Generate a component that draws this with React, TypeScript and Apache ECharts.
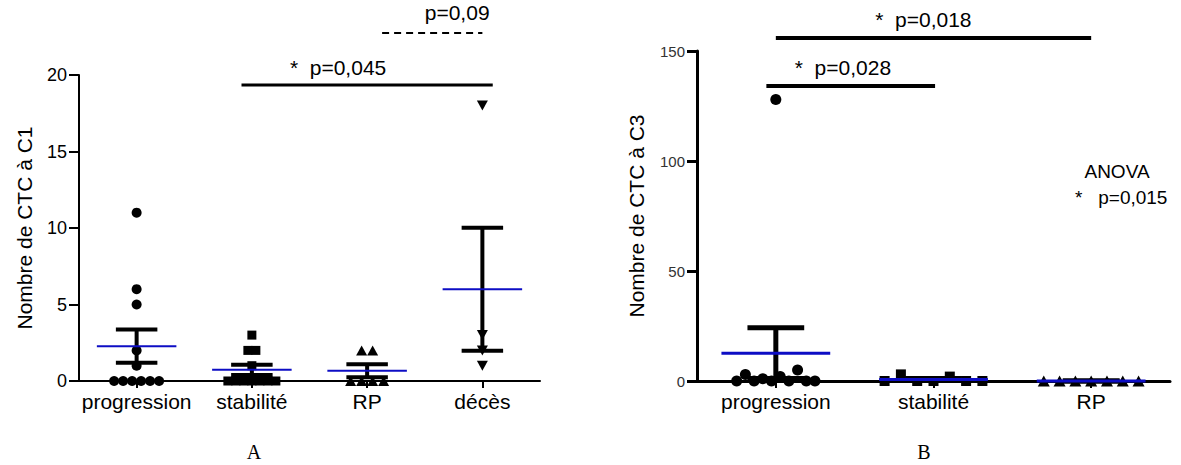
import React, { useEffect, useRef } from "react";
import * as echarts from "echarts";

// ---------- data ----------
const categoriesA = ["progression", "stabilité", "RP", "décès"];
const categoriesB = ["progression", "stabilité", "RP"];

const progressionC1 = [11, 6, 5, 2, 1, 0, 0, 0, 0, 0, 0];
const stabiliteC1 = [3, 2, 2, 1, 0, 0, 0, 0, 0, 0, 0];
const rpC1 = [2, 2, 0, 0, 0, 0];
const decesC1 = [18, 3, 2, 1];

const progressionC3 = [128, 0, 3, 0, 1, 0, 2, 0, 5, 0, 0];
const stabiliteC3 = [0, 3, 0, 0, 2, 0, 0];
const rpC3 = [0, 0, 0, 0, 0, 0, 0];

const yAxisA = { min: 0, max: 20, interval: 5 };
const yAxisB = { min: 0, max: 150, interval: 50 };

// significance brackets: x in category units (0 = first category), level in axis units
const bracketsA = [
  { text: "*  p=0,045", from: 0.91, to: 3.09, level: 19.35, textAt: 1.33, textLevel: 20.5, dashed: false },
  { text: "p=0,09", from: 2.13, to: 3.0, level: 22.75, textAt: 2.5, textLevel: 24.1, dashed: true },
];
const bracketsB = [
  { text: "*  p=0,018", from: 0.0, to: 2.0, level: 155.9, textAt: 0.63, textLevel: 164.2, dashed: false },
  { text: "*  p=0,028", from: -0.06, to: 1.01, level: 134.1, textAt: 0.12, textLevel: 142.4, dashed: false },
];

const SANS = "'Liberation Sans', Arial, sans-serif";
const SERIF = "'Liberation Serif', 'Times New Roman', serif";
const BLUE = "#0d0dc4";

// ---------- helpers ----------
function mean(a: number[]) {
  return a.reduce((s, v) => s + v, 0) / a.length;
}
function sem(a: number[]) {
  const m = mean(a);
  const v = a.reduce((s, x) => s + (x - m) * (x - m), 0) / (a.length - 1);
  return Math.sqrt(v) / Math.sqrt(a.length);
}

function marker(shape: string, cx: number, cy: number, s: number) {
  const style = { fill: "#000" };
  if (shape === "circle") return { type: "circle", shape: { cx, cy, r: s / 2 }, style };
  if (shape === "square")
    return { type: "rect", shape: { x: cx - s / 2 + 0.5, y: cy - s / 2 + 0.5, width: s - 1, height: s - 1 }, style };
  const w = s + 1;
  const h = s;
  if (shape === "triUp")
    return {
      type: "polygon",
      shape: { points: [[cx, cy - h / 2], [cx + w / 2, cy + h / 2], [cx - w / 2, cy + h / 2]] },
      style,
    };
  return {
    type: "polygon",
    shape: { points: [[cx - w / 2, cy - h / 2], [cx + w / 2, cy - h / 2], [cx, cy + h / 2]] },
    style,
  };
}

function pointsSeries(
  gridIdx: number,
  cats: string[],
  groups: number[][],
  shapes: string[],
  spacing: number[],
  size: number,
  thr: number
) {
  const flat: { g: number; i: number }[] = [];
  groups.forEach((vals, g) => vals.forEach((_, i) => flat.push({ g, i })));
  return {
    type: "custom",
    xAxisIndex: gridIdx,
    yAxisIndex: gridIdx,
    z: 3,
    data: flat.map((p) => [cats[p.g], groups[p.g][p.i]]),
    renderItem: (params: any, api: any) => {
      const p = flat[params.dataIndex];
      const vals = groups[p.g];
      const py = vals.map((v) => api.coord([p.g, v])[1]);
      const order = vals.map((_, i) => i).sort((a, b) => py[b] - py[a] || a - b);
      const rows: number[][] = [];
      let cur: number[] = [];
      let start = 0;
      for (const i of order) {
        if (cur.length && Math.abs(py[i] - start) > thr) {
          rows.push(cur);
          cur = [];
        }
        if (!cur.length) start = py[i];
        cur.push(i);
      }
      if (cur.length) rows.push(cur);
      const off = new Array(vals.length).fill(0);
      for (const r of rows) {
        r.sort((a, b) => a - b);
        r.forEach((i, k) => (off[i] = (k - (r.length - 1) / 2) * spacing[p.g]));
      }
      const c = api.coord([p.g, vals[p.i]]);
      return marker(shapes[p.g], c[0] + off[p.i], py[p.i], size);
    },
  };
}

function statsSeries(gridIdx: number, cats: string[], groups: number[][], barW: number, meanW: number) {
  return {
    type: "custom",
    xAxisIndex: gridIdx,
    yAxisIndex: gridIdx,
    z: 4,
    data: groups.map((vals, g) => [cats[g], mean(vals)]),
    renderItem: (params: any, api: any) => {
      const g = params.dataIndex;
      const vals = groups[g];
      const m = mean(vals);
      const e = sem(vals);
      const bw = api.size([1, 0])[0];
      const top = api.coord([g, m + e]);
      const bot = api.coord([g, m - e]);
      const mid = api.coord([g, m]);
      const capH = bw * 0.18;
      const meanH = bw * 0.345;
      const black = { stroke: "#000", lineWidth: barW, fill: "none" };
      return {
        type: "group",
        children: [
          { type: "line", shape: { x1: top[0], y1: top[1], x2: bot[0], y2: bot[1] }, style: black },
          { type: "line", shape: { x1: top[0] - capH, y1: top[1], x2: top[0] + capH, y2: top[1] }, style: black },
          { type: "line", shape: { x1: bot[0] - capH, y1: bot[1], x2: bot[0] + capH, y2: bot[1] }, style: black },
          {
            type: "line",
            shape: { x1: mid[0] - meanH, y1: mid[1], x2: mid[0] + meanH, y2: mid[1] },
            style: { stroke: BLUE, lineWidth: meanW },
          },
        ],
      };
    },
  };
}

function bracketSeries(gridIdx: number, cats: string[], brackets: any[], lw: number, fs: number) {
  return {
    type: "custom",
    xAxisIndex: gridIdx,
    yAxisIndex: gridIdx,
    z: 5,
    clip: false,
    data: brackets.map(() => [cats[0], 0]),
    renderItem: (params: any, api: any) => {
      const b = brackets[params.dataIndex];
      const bw = api.size([1, 0])[0];
      const base = api.coord([0, b.level]);
      const tb = api.coord([0, b.textLevel]);
      return {
        type: "group",
        children: [
          {
            type: "line",
            shape: { x1: base[0] + b.from * bw, y1: base[1], x2: base[0] + b.to * bw, y2: base[1] },
            style: b.dashed
              ? { stroke: "#000", lineWidth: 2, lineDash: [7, 5] }
              : { stroke: "#000", lineWidth: lw },
          },
          {
            type: "text",
            x: tb[0] + b.textAt * bw,
            y: tb[1],
            style: { text: b.text, fontSize: fs, fontFamily: SANS, fill: "#000", align: "left", verticalAlign: "middle" },
          },
        ],
      };
    },
  };
}

function xAxis(gridIdx: number, cats: string[], lw: number, fs: number) {
  return {
    type: "category",
    gridIndex: gridIdx,
    data: cats,
    boundaryGap: true,
    axisLine: { show: true, onZero: false, lineStyle: { color: "#000", width: lw } },
    axisTick: { show: true, alignWithLabel: true, length: 7, lineStyle: { color: "#000", width: 2 } },
    axisLabel: { fontSize: fs, fontFamily: SANS, color: "#000", margin: 10, interval: 0 },
    splitLine: { show: false },
  };
}

function yAxis(gridIdx: number, cfg: any, name: string, lw: number, fs: number, color: string, gap: number) {
  return {
    type: "value",
    gridIndex: gridIdx,
    min: cfg.min,
    max: cfg.max,
    interval: cfg.interval,
    name,
    nameLocation: "middle",
    nameGap: gap,
    nameTextStyle: { fontSize: 21, fontFamily: SANS, color: "#000" },
    axisLine: { show: true, lineStyle: { color: "#000", width: lw } },
    axisTick: { show: true, length: 10, lineStyle: { color: "#000", width: lw } },
    axisLabel: { fontSize: fs, fontFamily: SANS, color, margin: 12 },
    splitLine: { show: false },
  };
}

const groupsA = [progressionC1, stabiliteC1, rpC1, decesC1];
const groupsB = [progressionC3, stabiliteC3, rpC3];

const option: any = {
  animation: false,
  backgroundColor: "#fff",
  grid: [
    { left: 79, right: 641, top: 75, bottom: 84 },
    { left: 697, right: 11, top: 51, bottom: 84 },
  ],
  xAxis: [xAxis(0, categoriesA, 2, 21), xAxis(1, categoriesB, 3, 21)],
  yAxis: [
    yAxis(0, yAxisA, "Nombre de CTC à C1", 2, 18, "#000", 44),
    yAxis(1, yAxisB, "Nombre de CTC à C3", 3, 15, "#333", 50),
  ],
  series: [
    pointsSeries(0, categoriesA, groupsA, ["circle", "square", "triUp", "triDown"], [9, 8, 11, 9], 10, 12),
    pointsSeries(1, categoriesB, groupsB, ["circle", "square", "triUp"], [8.7, 16.3, 15.8], 11, 12),
    statsSeries(0, categoriesA, groupsA, 4, 2),
    statsSeries(1, categoriesB, groupsB, 5, 3),
    bracketSeries(0, categoriesA, bracketsA, 3, 21),
    bracketSeries(1, categoriesB, bracketsB, 4, 21),
  ],
  graphic: [
    {
      type: "text",
      x: 1117,
      y: 171,
      style: { text: "ANOVA", fontSize: 19, fontFamily: SANS, fill: "#000", align: "center", verticalAlign: "middle" },
    },
    {
      type: "text",
      x: 1075,
      y: 197,
      style: { text: "*   p=0,015", fontSize: 19, fontFamily: SANS, fill: "#000", align: "left", verticalAlign: "middle" },
    },
    {
      type: "text",
      x: 254,
      y: 452,
      style: { text: "A", fontSize: 20, fontFamily: SERIF, fill: "#000", align: "center", verticalAlign: "middle" },
    },
    {
      type: "text",
      x: 924,
      y: 452,
      style: { text: "B", fontSize: 20, fontFamily: SERIF, fill: "#000", align: "center", verticalAlign: "middle" },
    },
  ],
};

export default function App() {
  const ref = useRef<HTMLDivElement>(null);
  useEffect(() => {
    document.body.style.margin = "0";
    const chart = echarts.init(ref.current!, null, { renderer: "svg" });
    chart.setOption(option);
    return () => chart.dispose();
  }, []);
  return <div ref={ref} style={{ width: 1181, height: 465 }} />;
}
